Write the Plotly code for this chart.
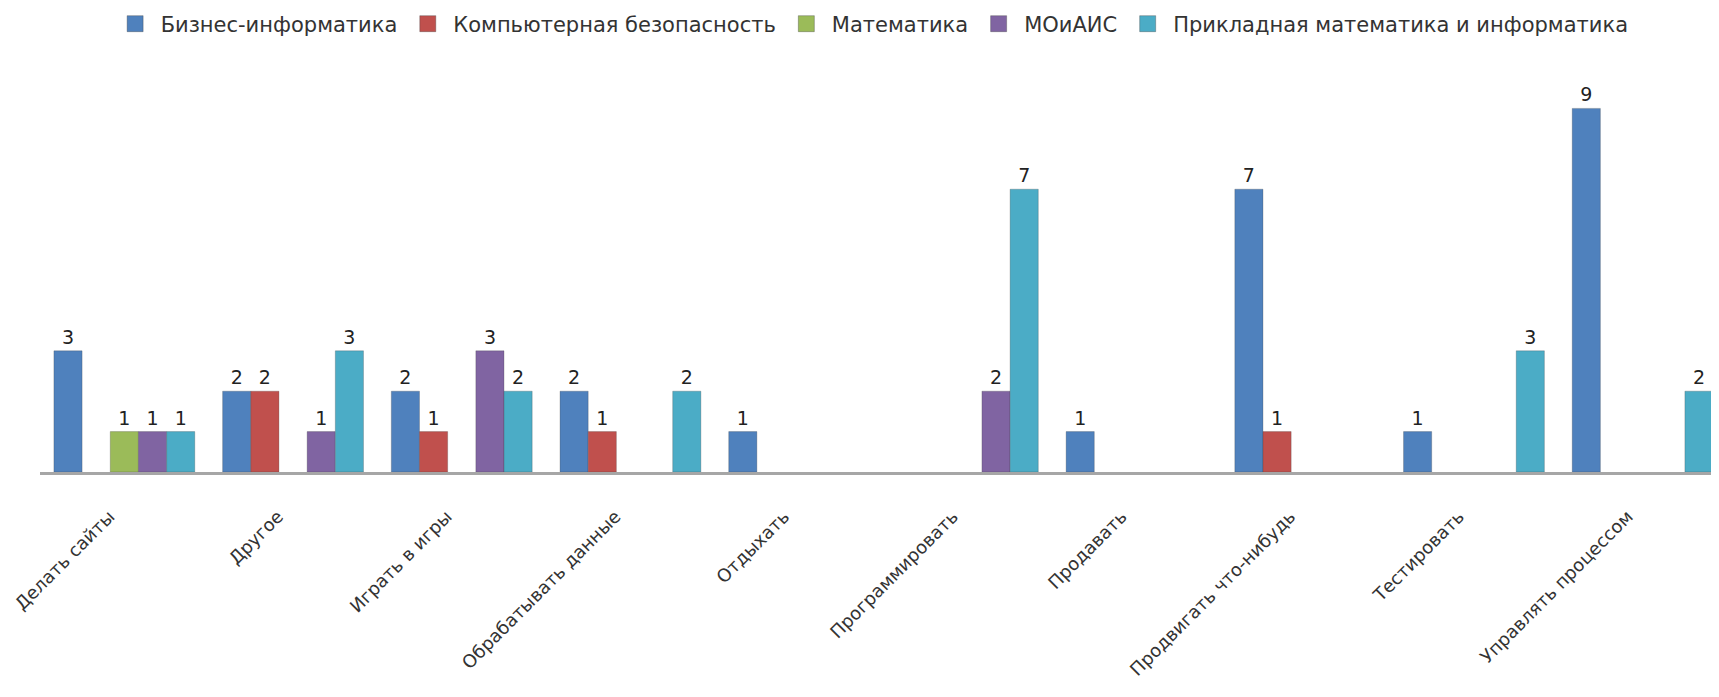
import plotly.graph_objects as go

categories = ["Делать сайты", "Другое", "Играть в игры", "Обрабатывать данные", "Отдыхать",
              "Программировать", "Продавать", "Продвигать что-нибудь", "Тестировать", "Управлять процессом"]

series_names = ["Бизнес-информатика", "Компьютерная безопасность", "Математика", "МОиАИС",
                "Прикладная математика и информатика"]

biz_inf = [3, 2, 2, 2, 1, 0, 1, 7, 1, 9]
comp_sec = [0, 2, 1, 1, 0, 0, 0, 1, 0, 0]
math_ = [1, 0, 0, 0, 0, 0, 0, 0, 0, 0]
moais = [1, 1, 3, 0, 0, 2, 0, 0, 0, 0]
applied = [1, 3, 2, 2, 0, 7, 0, 0, 3, 2]

series_values = [biz_inf, comp_sec, math_, moais, applied]
colors = ["#4F81BD", "#C0504D", "#9BBB59", "#8064A2", "#4BACC6"]

FONT = "DejaVu Sans"

fig = go.Figure()
for name, vals, col in zip(series_names, series_values, colors):
    fig.add_trace(go.Bar(
        name=name, x=categories, y=vals, legendgroup=name, showlegend=False,
        marker=dict(color=col, line=dict(color="rgba(60,60,60,0.25)",
                                         width=[1 if v else 0 for v in vals])),
        text=[str(v) if v else "" for v in vals],
        textposition="outside",
        textfont=dict(family=FONT, size=19, color="#222"),
        cliponaxis=False,
    ))
# legend entries with square swatches (as in the reference)
for name, col in zip(series_names, colors):
    fig.add_trace(go.Scatter(
        name=name, x=[None], y=[None], mode="markers", legendgroup=name,
        marker=dict(symbol="square", size=16, color=col,
                    line=dict(color="rgba(60,60,60,0.35)", width=1)),
        hoverinfo="skip",
    ))

fig.update_layout(
    width=1719, height=697,
    margin=dict(l=32, r=0, t=60, b=233, autoexpand=False),
    barmode="group", bargap=0.165, bargroupgap=0,
    plot_bgcolor="white", paper_bgcolor="white",
    font=dict(family=FONT, size=18, color="#333"),
    legend=dict(orientation="h", xref="container", x=0.5024, xanchor="center",
                yref="container", y=0.977, yanchor="middle", itemsizing="trace",
                font=dict(family=FONT, size=21, color="#333"), itemwidth=41,
                traceorder="normal"),
    xaxis=dict(range=[-0.5, 9.5], showline=True, linecolor="#A6A6A6", linewidth=3,
               tickangle=-45, ticks="", showgrid=False, zeroline=False, automargin=False,
               ticklabelshift=-15, ticklabelstandoff=24,
               tickfont=dict(family=FONT, size=18, color="#333")),
    yaxis=dict(range=[0, 10], visible=False, showgrid=False, automargin=False),
)

fig.write_html("out.html")
